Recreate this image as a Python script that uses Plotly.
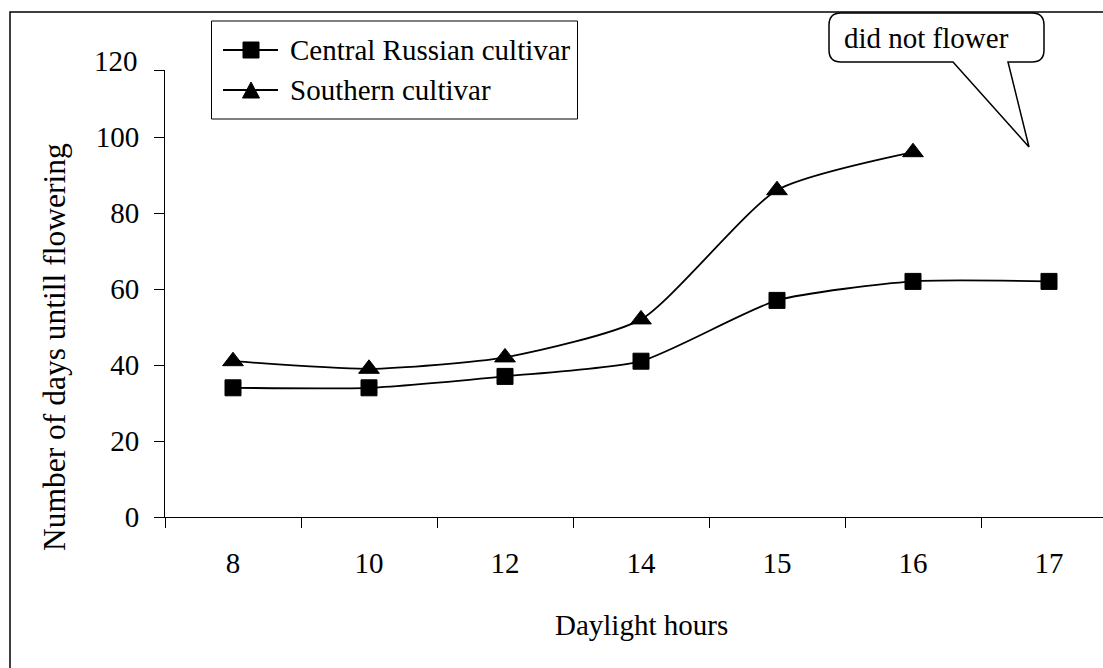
import plotly.graph_objects as go

# ---------------- data ----------------
hours = ["8", "10", "12", "14", "15", "16", "17"]
central_russian = [34, 34, 37, 41, 57, 62, 62]
southern = [41, 39, 42, 52, 86, 96, None]
series_names = ["Central Russian cultivar", "Southern cultivar"]
series_symbols = ["square", "triangle-up"]
series_marker_sizes = [16, 18]
y_tick_values = [0, 20, 40, 60, 80, 100]
y_tick_labels = ["0", "20", "40", "60", "80", "100"]
y_top_label = "120"
callout_text = "did not flower"
x_title = "Daylight hours"
y_title = "Number of days untill flowering"

# ---------------- layout constants (pixels) ----------------
W, H = 1103, 668
L, R, T, B = 165, 1103, 70, 517          # plot area
PX_PER_UNIT = 3.8                         # y pixels per day
Y_MAX = (B - T) / PX_PER_UNIT
CAT_W = 136.0
X_MAX = -0.5 + (R - L) / CAT_W
FONT = "Liberation Serif, Times New Roman, serif"
FS = 29


def px(xp):
    return (xp - L) / (R - L)


def py(yp):
    return (B - yp) / (B - T)


fig = go.Figure()
for name, vals, sym, ms in zip(series_names, [central_russian, southern],
                               series_symbols, series_marker_sizes):
    fig.add_trace(go.Scatter(
        x=hours, y=vals, name=name, mode="lines+markers",
        line=dict(color="black", width=1.8, shape="spline", smoothing=0.6),
        marker=dict(symbol=sym, size=ms, color="black",
                    line=dict(color="black", width=1)),
        connectgaps=False, showlegend=False, cliponaxis=False,
    ))

shapes = []
annotations = []

# outer chart border (right & bottom edges fall outside the picture)
shapes.append(dict(type="rect", xref="paper", yref="paper",
                   x0=px(10), x1=px(1115), y0=py(690), y1=py(12),
                   line=dict(color="black", width=1.5), fillcolor="rgba(0,0,0,0)",
                   layer="below"))

# ---------------- legend (drawn) ----------------
shapes.append(dict(type="rect", xref="paper", yref="paper",
                   x0=px(211.5), x1=px(577.5), y0=py(119), y1=py(21),
                   line=dict(color="black", width=1), fillcolor="white"))
row_y = [50, 90]
for i, (name, sym) in enumerate(zip(series_names, series_symbols)):
    yc = row_y[i]
    shapes.append(dict(type="line", xref="paper", yref="paper",
                       x0=px(223), x1=px(278), y0=py(yc), y1=py(yc),
                       line=dict(color="black", width=1.8)))
    if sym == "square":
        shapes.append(dict(type="rect", xref="paper", yref="paper",
                           x0=px(243), x1=px(259), y0=py(yc + 8), y1=py(yc - 8),
                           line=dict(color="black", width=1), fillcolor="black"))
    else:
        path = "M {a},{b} L {c},{d} L {e},{f} Z".format(
            a=px(251), b=py(yc - 8), c=px(259.5), d=py(yc + 8), e=px(242.5), f=py(yc + 8))
        shapes.append(dict(type="path", xref="paper", yref="paper", path=path,
                           line=dict(color="black", width=1), fillcolor="black"))
    annotations.append(dict(text=name, xref="paper", yref="paper",
                            x=px(288), y=py(yc), xanchor="left", yanchor="middle",
                            showarrow=False, font=dict(family=FONT, size=FS, color="black")))

# ---------------- callout bubble ----------------
bl, br, bt, bb, rr = 829, 1044, 13, 62, 12
tail_a, tail_b, tip = 953, 1008, (1029, 147)
pts = [
    ("M", (bl + rr, bt)), ("L", (br - rr, bt)),
    ("Q", (br, bt), (br, bt + rr)), ("L", (br, bb - rr)),
    ("Q", (br, bb), (br - rr, bb)), ("L", (tail_b, bb)),
    ("L", tip), ("L", (tail_a, bb)), ("L", (bl + rr, bb)),
    ("Q", (bl, bb), (bl, bb - rr)), ("L", (bl, bt + rr)),
    ("Q", (bl, bt), (bl + rr, bt)),
]
segs = []
for p in pts:
    cmd = p[0]
    coords = " ".join("{:.5f},{:.5f}".format(px(c[0]), py(c[1])) for c in p[1:])
    segs.append(cmd + " " + coords)
bubble_path = " ".join(segs) + " Z"
shapes.append(dict(type="path", xref="paper", yref="paper", path=bubble_path,
                   line=dict(color="black", width=1.5), fillcolor="white"))
annotations.append(dict(text=callout_text, xref="paper", yref="paper",
                        x=px(926.5), y=py(37.5), xanchor="center", yanchor="middle",
                        showarrow=False, font=dict(family=FONT, size=FS, color="black")))

# ---------------- axis titles & top y label ----------------
annotations.append(dict(text=x_title, xref="paper", yref="paper",
                        x=px(641), y=py(625), xanchor="center", yanchor="middle",
                        showarrow=False, font=dict(family=FONT, size=FS, color="black")))
annotations.append(dict(text=y_title, xref="paper", yref="paper",
                        x=px(54), y=py(347), xanchor="center", yanchor="middle",
                        textangle=-90, showarrow=False,
                        font=dict(family=FONT, size=31.5, color="black")))
annotations.append(dict(text=y_top_label, xref="paper", yref="paper",
                        x=px(140), y=py(61), xanchor="right", yanchor="middle",
                        showarrow=False, font=dict(family=FONT, size=FS, color="black")))

fig.update_layout(
    width=W, height=H,
    margin=dict(l=L, r=W - R, t=T, b=H - B, pad=0),
    paper_bgcolor="white", plot_bgcolor="white",
    font=dict(family=FONT, size=FS, color="black"),
    shapes=shapes, annotations=annotations,
    showlegend=False,
    xaxis=dict(type="category", categoryorder="array", categoryarray=hours,
               range=[-0.5, X_MAX], tickson="boundaries",
               ticks="outside", ticklen=10, tickcolor="black", tickwidth=1,
               showline=True, linecolor="black", linewidth=1,
               showgrid=False, zeroline=False, ticklabelstandoff=20,
               tickfont=dict(family=FONT, size=FS, color="black")),
    yaxis=dict(range=[0, Y_MAX],
               tickvals=y_tick_values + [Y_MAX], ticktext=y_tick_labels + [""],
               ticks="outside", ticklen=10, tickcolor="black", tickwidth=1,
               showline=True, linecolor="black", linewidth=1,
               showgrid=False, zeroline=False, ticklabelstandoff=9,
               tickfont=dict(family=FONT, size=FS, color="black")),
)

fig.write_html("out.html", config={"displayModeBar": False},
               post_script="document.body.style.margin='0';document.body.style.overflow='hidden';")
